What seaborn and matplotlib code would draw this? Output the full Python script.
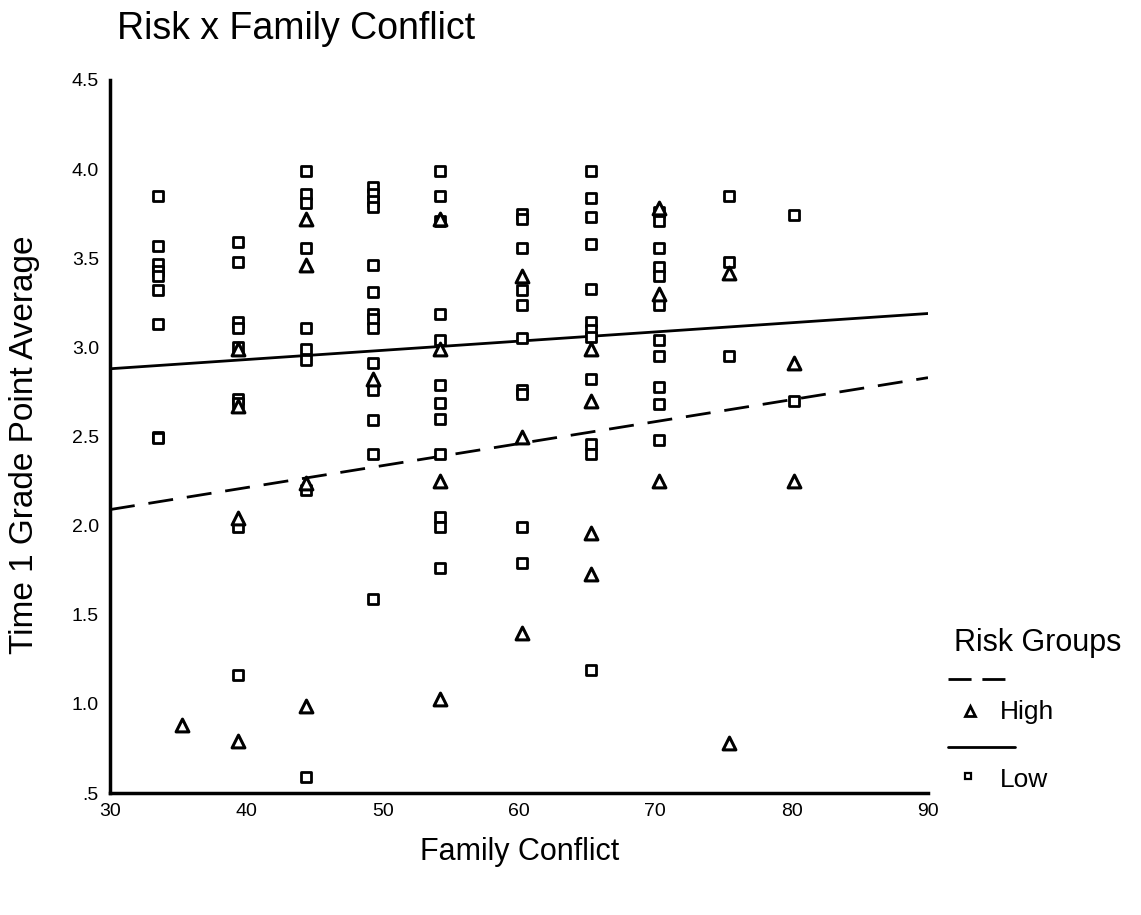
import matplotlib
matplotlib.use("Agg")
import matplotlib.pyplot as plt
from matplotlib.lines import Line2D
import numpy as np
import pandas as pd
import seaborn as sns

# Family conflict score and Time 1 GPA, per risk group
low_x = ([33.5] * 9 + [39.4] * 9 + [44.4] * 9 + [49.3] * 14 + [54.2] * 12
         + [60.2] * 10 + [65.3] * 12 + [70.3] * 11 + [75.4] * 3 + [80.2] * 2)
low_gpa = [3.85, 3.57, 3.47, 3.43, 3.40, 3.32, 3.13, 2.50, 2.49,
           3.59, 3.48, 3.14, 3.11, 3.00, 2.71, 2.69, 1.99, 1.16,
           3.99, 3.86, 3.81, 3.56, 3.11, 2.99, 2.93, 2.20, 0.59,
           3.90, 3.86, 3.82, 3.79, 3.46, 3.31, 3.19, 3.16, 3.11, 2.91, 2.76, 2.59, 2.40, 1.59,
           3.99, 3.85, 3.71, 3.19, 3.04, 2.79, 2.69, 2.60, 2.40, 2.05, 1.99, 1.76,
           3.75, 3.72, 3.56, 3.32, 3.24, 3.05, 2.76, 2.74, 1.99, 1.79,
           3.99, 3.84, 3.73, 3.58, 3.33, 3.14, 3.10, 3.06, 2.82, 2.46, 2.40, 1.19,
           3.76, 3.71, 3.56, 3.45, 3.40, 3.24, 3.04, 2.95, 2.78, 2.68, 2.48,
           3.85, 3.48, 2.95,
           3.74, 2.70]

high_x = ([35.3] * 1 + [39.4] * 4 + [44.4] * 4 + [49.3] * 1 + [54.2] * 4
          + [60.2] * 3 + [65.3] * 4 + [70.3] * 3 + [75.4] * 2 + [80.2] * 2)
high_gpa = [0.88,
            2.99, 2.67, 2.04, 0.79,
            3.72, 3.46, 2.24, 0.99,
            2.82,
            3.72, 2.99, 2.25, 1.03,
            3.40, 2.50, 1.40,
            2.99, 2.70, 1.96, 1.73,
            3.78, 3.30, 2.25,
            3.42, 0.78,
            2.91, 2.25]

# Fitted regression lines (ends of the fit over the plotted range)
fit_x = [30, 90]
high_fit = [2.09, 2.83]
low_fit = [2.88, 3.19]

x_ticks = [30, 40, 50, 60, 70, 80, 90]
y_ticks = [0.5, 1.0, 1.5, 2.0, 2.5, 3.0, 3.5, 4.0, 4.5]
y_tick_labels = [".5", "1.0", "1.5", "2.0", "2.5", "3.0", "3.5", "4.0", "4.5"]

points = pd.DataFrame({
    "conflict": low_x + high_x,
    "gpa": low_gpa + high_gpa,
    "risk": ["Low"] * len(low_x) + ["High"] * len(high_x),
})
fits = pd.DataFrame({
    "conflict": fit_x + fit_x,
    "gpa": high_fit + low_fit,
    "risk": ["High"] * 2 + ["Low"] * 2,
})

sns.set_theme(style="white")
plt.rcParams["font.family"] = ["Liberation Sans", "DejaVu Sans"]

W, H = 1141, 915
fig = plt.figure(figsize=(W / 100, H / 100), dpi=100)
ax = fig.add_axes([110 / W, 1 - 793 / H, 818 / W, 713 / H])

sns.lineplot(data=fits[fits.risk == "High"], x="conflict", y="gpa", ax=ax,
             color="black", lw=2.0, legend=False)
ax.lines[-1].set_dashes([9, 5])
sns.lineplot(data=fits[fits.risk == "Low"], x="conflict", y="gpa", ax=ax,
             color="black", lw=2.0, legend=False)

sns.scatterplot(data=points[points.risk == "Low"], x="conflict", y="gpa", ax=ax,
                marker="s", s=50, facecolor="white", edgecolor="black",
                linewidth=2.0, legend=False, zorder=3)
sns.scatterplot(data=points[points.risk == "High"], x="conflict", y="gpa", ax=ax,
                marker="^", s=85, facecolor="white", edgecolor="black",
                linewidth=2.2, legend=False, zorder=3)

ax.set_xlim(30, 90)
ax.set_ylim(0.5, 4.5)
ax.set_xticks(x_ticks)
ax.set_xticklabels([str(t) for t in x_ticks])
ax.set_yticks(y_ticks)
ax.set_yticklabels(y_tick_labels)
ax.tick_params(axis="both", direction="out", length=4, width=5, color="black",
               labelsize=14, labelcolor="black")
ax.tick_params(axis="x", pad=3)
ax.tick_params(axis="y", pad=4)
for side in ("top", "right"):
    ax.spines[side].set_visible(False)
for side in ("left", "bottom"):
    ax.spines[side].set_color("black")
    ax.spines[side].set_linewidth(2.5)
ax.set_xlabel("")
ax.set_ylabel("")

fig.text(117 / W, 1 - 29 / H, "Risk x Family Conflict", fontsize=27,
         ha="left", va="center", color="black")
fig.text(25 / W, 1 - 445 / H, "Time 1 Grade Point Average", fontsize=24,
         rotation=90, ha="center", va="center", color="black")
fig.text(520 / W, 1 - 852 / H, "Family Conflict", fontsize=22,
         ha="center", va="center", color="black")

# Legend block: line style above each group's marker
fig.text(954 / W, 1 - 643 / H, "Risk Groups", fontsize=22,
         ha="left", va="center", color="black")
fig.add_artist(Line2D([948 / W, 1005 / W], [1 - 679 / H] * 2,
                      color="black", lw=2.0, dashes=[8.3, 3.9]))
fig.add_artist(Line2D([970 / W], [1 - 711 / H], marker="^", ms=7,
                      mfc="white", mec="black", mew=2.0, ls="none"))
fig.text(1000 / W, 1 - 712 / H, "High", fontsize=19,
         ha="left", va="center", color="black")
fig.add_artist(Line2D([948 / W, 1015 / W], [1 - 747 / H] * 2,
                      color="black", lw=2.0))
fig.add_artist(Line2D([968 / W], [1 - 776 / H], marker="s", ms=5,
                      mfc="white", mec="black", mew=1.6, ls="none"))
fig.text(1000 / W, 1 - 780 / H, "Low", fontsize=19,
         ha="left", va="center", color="black")

fig.savefig("out.png", dpi=100, facecolor="white")
